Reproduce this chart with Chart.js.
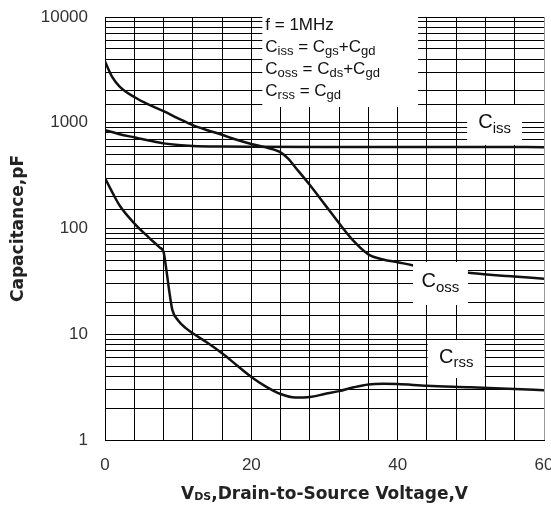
<!DOCTYPE html>
<html>
<head>
<meta charset="utf-8">
<script src="https://cdn.jsdelivr.net/npm/chart.js@4/dist/chart.umd.min.js"></script>
<style>
  html, body { margin: 0; padding: 0; background: #fff; }
  #wrap { width: 551px; height: 512px; }
</style>
</head>
<body>
<div id="wrap"><canvas id="capChart" width="551" height="512"></canvas></div>
<script>
// Datos (VDS en V, capacitancia en pF)
const vdsCoss = [0, 1, 2, 4, 6, 8, 10, 12, 14, 16, 18, 20, 22, 23, 24, 25, 26, 28, 30, 32, 34, 36, 38, 40, 42, 46, 50, 55, 60];
const coss = [3800, 2700, 2200, 1750, 1480, 1290, 1100, 950, 850, 770, 690, 630, 585, 560, 525, 460, 380, 258, 170, 112, 76, 57, 51, 48, 45, 41, 38, 35.5, 33.5];

const vdsCiss = [0, 2, 4, 6, 8, 10, 12, 16, 20, 30, 40, 50, 60];
const ciss = [850, 780, 728, 680, 638, 615, 603, 595, 592, 590, 590, 590, 588];

const vdsCrss = [0, 1, 2, 4, 6, 7.5, 8, 8.4, 8.8, 9.2, 10, 11, 12, 14, 16, 18, 20, 22, 24, 26, 28, 30, 32, 34, 36, 38, 40, 44, 50, 56, 60];
const crss = [300, 220, 165, 112, 82, 66, 60, 40, 25, 17, 13.5, 11.5, 10.2, 8.3, 6.6, 5.1, 3.95, 3.2, 2.72, 2.52, 2.55, 2.72, 2.9, 3.15, 3.35, 3.4, 3.38, 3.25, 3.15, 3.03, 2.96];

const xTickLabels = [0, 20, 40, 60];
const yTickLabels = [1, 10, 100, 1000, 10000];

const toPoints = (xs, ys) => xs.map((x, i) => ({ x: x, y: ys[i] }));

// Cajas blancas con texto (coordenadas en unidades de datos)
const cajas = [
  { x0: 21.5, x1: 42.8, y0: 1410, y1: 10000, tipo: "leyenda" },
  { x0: 49.5, x1: 57.0, y0: 617, y1: 1472, nombre: "C", sub: "iss" },
  { x0: 42.1, x1: 49.6, y0: 18.9, y1: 48.2, nombre: "C", sub: "oss" },
  { x0: 44.1, x1: 51.9, y0: 3.86, y1: 8.8, nombre: "C", sub: "rss" }
];

const lineasLeyenda = [
  [["f = 1MHz"]],
  [["C"], ["iss", 1], [" = C"], ["gs", 1], ["+C"], ["gd", 1]],
  [["C"], ["oss", 1], [" = C"], ["ds", 1], ["+C"], ["gd", 1]],
  [["C"], ["rss", 1], [" = C"], ["gd", 1]]
];

const FUENTE = "'Liberation Sans', Arial, sans-serif";

function textoRico(ctx, partes, x, y, size) {
  let cx = x;
  partes.forEach(p => {
    const sub = p[1] === 1;
    ctx.font = (sub ? Math.round(size * 0.74) : size) + "px " + FUENTE;
    ctx.fillText(p[0], cx, sub ? y + size * 0.28 : y);
    cx += ctx.measureText(p[0]).width;
  });
  return cx - x;
}

const cajasPlugin = {
  id: "cajas",
  afterDatasetsDraw(chart) {
    const ctx = chart.ctx;
    const xs = chart.scales.x, ys = chart.scales.y;
    ctx.save();
    ctx.textBaseline = "middle";
    cajas.forEach(c => {
      const left = xs.getPixelForValue(c.x0), right = xs.getPixelForValue(c.x1);
      const top = ys.getPixelForValue(c.y1), bottom = ys.getPixelForValue(c.y0);
      ctx.fillStyle = "#fff";
      ctx.fillRect(left, top, right - left, bottom - top);
      ctx.fillStyle = "#111";
      if (c.tipo === "leyenda") {
        lineasLeyenda.forEach((l, i) => textoRico(ctx, l, left + 3, top + 8 + i * 22, 17));
      } else {
        ctx.font = "20px " + FUENTE;
        const w = ctx.measureText(c.nombre).width;
        ctx.font = "15px " + FUENTE;
        const w2 = ctx.measureText(c.sub).width;
        const x = (left + right) / 2 - (w + w2) / 2;
        const y = (top + bottom) / 2 - 2;
        ctx.font = "20px " + FUENTE;
        ctx.fillText(c.nombre, x, y);
        ctx.font = "15px " + FUENTE;
        ctx.fillText(c.sub, x + w, y + 6);
      }
    });
    ctx.restore();
  },
  afterDraw(chart) {
    // titulo del eje X con subindice
    const ctx = chart.ctx;
    const area = chart.chartArea;
    ctx.save();
    ctx.fillStyle = "#222";
    ctx.textBaseline = "alphabetic";
    const big = "bold 17px 'DejaVu Sans', Verdana, sans-serif";
    const small = "bold 11px 'DejaVu Sans', Verdana, sans-serif";
    ctx.font = big; const wV = ctx.measureText("V").width;
    const resto = ",Drain-to-Source Voltage,V";
    const wR = ctx.measureText(resto).width;
    ctx.font = small; const wS = ctx.measureText("DS").width;
    let x = (area.left + area.right) / 2 - (wV + wS + wR) / 2;
    const y = 499;
    ctx.font = big; ctx.fillText("V", x, y); x += wV;
    ctx.font = small; ctx.fillText("DS", x, y + 1); x += wS;
    ctx.font = big; ctx.fillText(resto, x, y);
    ctx.restore();
  }
};

const ctx = document.getElementById("capChart").getContext("2d");

const estiloLinea = {
  borderColor: "#111",
  borderWidth: 2.5,
  pointRadius: 0,
  fill: false,
  cubicInterpolationMode: "monotone"
};

new Chart(ctx, {
  type: "line",
  data: {
    datasets: [
      Object.assign({ label: "Coss", data: toPoints(vdsCoss, coss) }, estiloLinea),
      Object.assign({ label: "Ciss", data: toPoints(vdsCiss, ciss) }, estiloLinea),
      Object.assign({ label: "Crss", data: toPoints(vdsCrss, crss) }, estiloLinea)
    ]
  },
  options: {
    responsive: false,
    animation: false,
    layout: { padding: { top: 17, right: 7, left: 0, bottom: 0 } },
    plugins: {
      legend: { display: false },
      tooltip: { enabled: false }
    },
    scales: {
      x: {
        type: "linear",
        min: 0,
        max: 60,
        border: { color: "#000", width: 1 },
        grid: {
          drawTicks: false,
          lineWidth: 1,
          color: c => (c.tick && c.tick.value === 60 ? "#999" : "#000")
        },
        ticks: {
          stepSize: 4,
          autoSkip: false,
          maxRotation: 0,
          padding: 15,
          color: "#333",
          font: { family: FUENTE, size: 17 },
          callback: v => (xTickLabels.includes(v) ? String(v) : "")
        },
        afterFit: s => { s.height = 72; s.paddingLeft = 0; s.paddingRight = 0; }
      },
      y: {
        type: "logarithmic",
        min: 1,
        max: 10000,
        border: { color: "#000", width: 1 },
        grid: { drawTicks: false, lineWidth: 1, color: "#000" },
        ticks: {
          autoSkip: false,
          padding: 17,
          color: "#333",
          font: { family: FUENTE, size: 17 },
          callback: v => (yTickLabels.includes(v) ? String(v) : "")
        },
        title: {
          display: true,
          text: "Capacitance,pF",
          color: "#222",
          font: { family: "'DejaVu Sans', Verdana, sans-serif", size: 17, weight: "bold" },
          padding: { top: 8, bottom: 0 }
        },
        afterFit: s => { s.width = 105; s.paddingTop = 0; s.paddingBottom = 0; }
      }
    }
  },
  plugins: [cajasPlugin]
});
</script>
</body>
</html>
